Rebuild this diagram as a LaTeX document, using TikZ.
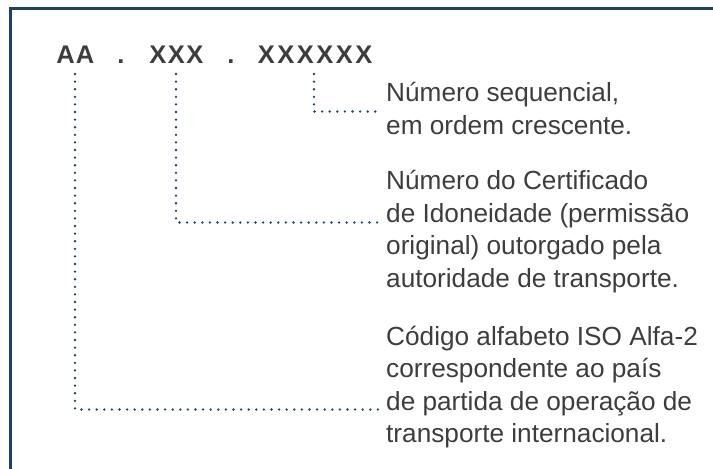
\documentclass[tikz,border=0pt]{standalone}
\usepackage{fontspec}
\setmainfont{Liberation Sans}
\definecolor{navy}{HTML}{1C3F6B}
\definecolor{ink}{HTML}{3D3D3D}
\tikzset{
  codechar/.style={inner sep=0pt, anchor=base, text=ink, font=\fontsize{25.5}{30}\selectfont\bfseries},
  desc/.style={inner sep=0pt, anchor=base west, align=left, text=ink, font=\fontsize{26.2}{32.5}\selectfont},
  dotline/.style={navy, line width=2.6pt, line cap=round, dash pattern=on 0pt off 7.6pt},
  frame/.style={navy, line width=3pt}
}
\begin{document}
\begin{tikzpicture}[x=1pt,y=-1pt]
\useasboundingbox (0,0) rectangle (713,469);
\draw[frame] (10.8,469) -- (10.8,8.7) -- (713,8.7);
% code
\node[codechar] (a1) at (65.5,63) {A};
\node[codechar] (a2) at (85,63) {A};
\node[codechar] (d1) at (121,63) {.};
\node[codechar] (x1) at (158,63) {X};
\node[codechar] (x2) at (176.5,63) {X};
\node[codechar] (x3) at (195,63) {X};
\node[codechar] (d2) at (231,63) {.};
\node[codechar] (y1) at (266.5,63) {X};
\node[codechar] (y2) at (286,63) {X};
\node[codechar] (y3) at (305.5,63) {X};
\node[codechar] (y4) at (325,63) {X};
\node[codechar] (y5) at (344.5,63) {X};
\node[codechar] (y6) at (364,63) {X};
% descriptions (base anchor = last line baseline)
\node[desc] (t1) at (386,134) {Número sequencial,\\em ordem crescente.};
\node[desc] (t2) at (386,287) {Número do Certificado\\de Idoneidade (permissão\\original) outorgado pela\\autoridade de transporte.};
\node[desc] (t3) at (386,442.5) {Código alfabeto ISO Alfa-2\\correspondente ao país\\de partida de operação de\\transporte internacional.};
% connector ends
\coordinate (s1) at (314,74);
\coordinate (s2) at (176,74);
\coordinate (s3) at (75,74);
\coordinate (e1) at (381,111.5);
\coordinate (e2) at (381,222.5);
\coordinate (e3) at (381,409.5);
\draw[dotline] (s1) |- (e1);
\draw[dotline] (s2) |- (e2);
\draw[dotline] (s3) |- (e3);
\end{tikzpicture}
\end{document}
